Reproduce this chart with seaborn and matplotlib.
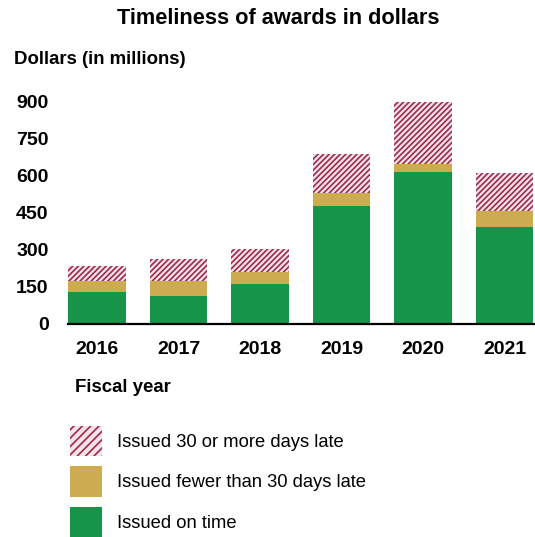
import pandas as pd
import seaborn as sns
import matplotlib.pyplot as plt
from matplotlib.patches import Patch

# values, millions of dollars
years = ['2016', '2017', '2018', '2019', '2020', '2021']
on_time = [129, 112, 163, 475, 613, 391]
under_30 = [43, 61, 47, 55, 33, 66]
over_30 = [63, 89, 94, 157, 250, 154]

labels = ['Issued 30 or more days late', 'Issued fewer than 30 days late', 'Issued on time']
green = '#16944A'
gold = '#CDAB50'
maroon = '#A0284A'
pink = '#F4E3E8'

df = pd.DataFrame({'year': years, 'on_time': on_time,
                   'under_30': under_30, 'over_30': over_30})
df['lvl2'] = df['on_time'] + df['under_30']
df['lvl3'] = df['lvl2'] + df['over_30']

sns.set_theme(style='white')
plt.rcParams['font.family'] = ['Liberation Sans', 'DejaVu Sans']
plt.rcParams['hatch.linewidth'] = 1.2

fig = plt.figure(figsize=(5.35, 5.37), dpi=100)
ax = fig.add_axes([68 / 535, 1 - 324 / 537, 1 - 68 / 535, (324 - 101.3) / 537])

w = 0.71
sns.barplot(data=df, x='year', y='lvl3', color=pink, saturation=1, width=w,
            hatch='//////', edgecolor=maroon, linewidth=0, ax=ax)
sns.barplot(data=df, x='year', y='lvl2', color=gold, saturation=1, width=w,
            linewidth=0, ax=ax)
sns.barplot(data=df, x='year', y='on_time', color=green, saturation=1, width=w,
            linewidth=0, ax=ax)

ax.set_xlim(-0.356, 5.374)
ax.set_ylim(0, 900)
ax.set_yticks([0, 150, 300, 450, 600, 750, 900])
ax.set_xlabel('')
ax.set_ylabel('')
sns.despine(ax=ax, left=True, top=True, right=True)
ax.spines['bottom'].set_color('black')
ax.spines['bottom'].set_linewidth(1.6)
ax.tick_params(axis='y', length=0, pad=14, labelsize=14)
ax.tick_params(axis='x', length=0, pad=12, labelsize=14)
for t in ax.get_xticklabels() + ax.get_yticklabels():
    t.set_fontweight('bold')
    t.set_color('black')

fig.text(0.52, 1 - 18 / 537, 'Timeliness of awards in dollars', ha='center', va='center',
         fontsize=15.7, fontweight='bold', color='black')
fig.text(14 / 535, 1 - 60 / 537, 'Dollars (in millions)', ha='left', va='center',
         fontsize=13.4, fontweight='bold', color='black')
fig.text(75 / 535, 1 - 388 / 537, 'Fiscal year', ha='left', va='center',
         fontsize=13.4, fontweight='bold', color='black')

handles = [Patch(facecolor=pink, edgecolor=maroon, hatch='////', linewidth=0),
           Patch(facecolor=gold, linewidth=0),
           Patch(facecolor=green, linewidth=0)]
fig.legend(handles, labels, loc='upper left', bbox_to_anchor=(70 / 535, 1 - 426 / 537),
           bbox_transform=fig.transFigure, frameon=False, borderpad=0, borderaxespad=0,
           fontsize=13.2, handlelength=1.75, handleheight=2.17, labelspacing=0.55,
           handletextpad=0.82, labelcolor='black')

fig.savefig('out.png', dpi=100)
